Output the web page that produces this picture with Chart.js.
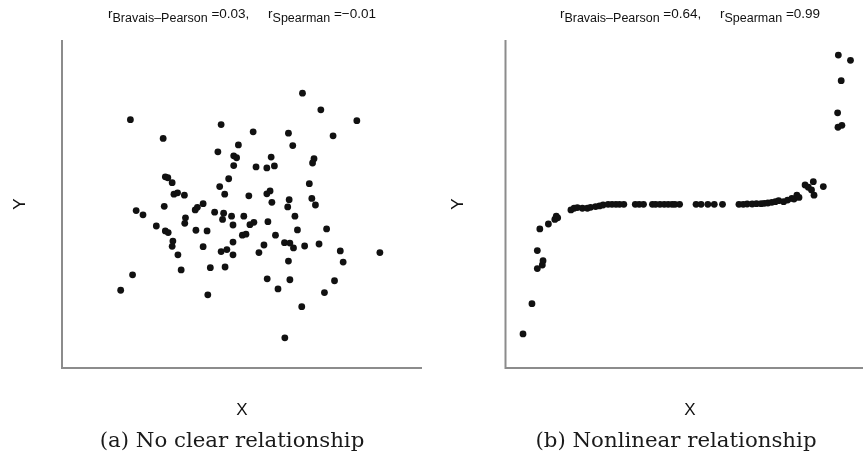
<!DOCTYPE html>
<html>
<head>
<meta charset="utf-8">
<script src="https://cdn.jsdelivr.net/npm/chart.js@4.4.1/dist/chart.umd.min.js"></script>
<style>
  html, body { margin: 0; padding: 0; background: #fff; }
  #wrap { position: relative; width: 867px; height: 471px; overflow: hidden; }
  canvas { position: absolute; top: 0; }
  #leftCanvas { left: 0; }
  #rightCanvas { left: 440px; }
  .caption {
    position: absolute; top: 427px; width: 420px; text-align: center;
    font-family: "DejaVu Serif", serif; font-size: 21.3px; color: #1a1a1a;
  }
  .ylab {
    position: absolute; top: 194px; width: 20px; height: 20px; line-height: 20px;
    text-align: center; color: #111;
    font-family: "Liberation Sans", Arial, sans-serif; font-size: 17px;
    transform: rotate(-90deg);
  }
</style>
</head>
<body>
<div id="wrap">
  <canvas id="leftCanvas" width="440" height="471"></canvas>
  <canvas id="rightCanvas" width="427" height="471"></canvas>
  <div class="ylab" style="left:10px">Y</div>
  <div class="ylab" style="left:448px">Y</div>
  <div class="caption" style="left:22px">(a) No clear relationship</div>
  <div class="caption" style="left:466px">(b) Nonlinear relationship</div>
</div>
<script>
// (a) no clear relationship - values on a 0..100 scale
const noRelX = [19.0, 44.2, 28.1, 43.3, 28.7, 29.4, 30.6, 46.3, 43.8, 31.1,
    32.1, 34.0, 45.2, 20.6, 22.5, 28.4, 37.0, 37.6, 39.2, 42.4,
    44.9, 44.6, 34.3, 34.1, 26.2, 66.8, 71.9, 81.9, 53.1, 62.9,
    75.3, 64.1, 49.0, 47.7, 48.5, 58.1, 70.0, 69.6, 47.7, 53.9,
    56.9, 59.0, 68.7, 56.9, 57.8, 51.9, 58.3, 63.1, 62.7, 69.4,
    70.4, 47.1, 50.5, 47.5, 52.2, 53.3, 57.2, 64.7, 28.7, 29.5,
    37.2, 40.3, 30.8, 30.6, 39.2, 32.2, 44.2, 45.8, 33.1, 41.2,
    45.3, 19.6, 16.3, 40.5, 65.4, 73.5, 50.1, 51.1, 59.3, 47.5,
    56.1, 61.8, 63.3, 64.3, 67.4, 71.4, 47.5, 54.7, 62.9, 77.3,
    88.3, 78.1, 57.0, 63.3, 60.0, 75.7, 72.9, 66.6, 61.9];
const noRelY = [75.7, 74.2, 70.0, 65.9, 58.3, 58.0, 56.5, 57.7, 55.3, 53.0,
    53.4, 52.7, 53.0, 48.0, 46.7, 49.3, 48.2, 49.0, 50.1, 47.5,
    47.2, 45.3, 45.8, 44.1, 43.3, 83.8, 78.7, 75.4, 72.0, 71.6,
    70.8, 67.8, 68.0, 64.7, 64.1, 64.3, 63.8, 62.5, 61.7, 61.3,
    61.0, 61.6, 56.2, 53.1, 54.0, 52.5, 50.5, 51.3, 49.1, 51.7,
    49.7, 46.3, 46.3, 43.6, 43.7, 44.4, 44.6, 46.3, 41.8, 41.3,
    42.0, 41.8, 38.7, 37.1, 37.0, 34.5, 35.5, 36.1, 29.9, 30.6,
    30.8, 28.4, 23.7, 22.3, 42.1, 42.4, 40.5, 40.8, 40.5, 38.4,
    37.5, 38.2, 38.1, 36.6, 37.2, 37.8, 34.5, 35.2, 32.6, 35.7,
    35.2, 32.3, 27.2, 26.9, 24.1, 26.6, 23.0, 18.7, 9.2];

// (b) nonlinear relationship
const nonLinX = [4.9, 7.4, 8.9, 8.9, 10.3, 10.5, 9.6, 12.0, 13.8, 14.2,
    14.6, 18.3, 19.2, 20.1, 21.5, 22.9, 23.8, 25.2, 26.3, 27.3,
    28.7, 29.8, 30.9, 31.9, 33.1, 36.3, 37.4, 38.6, 41.1, 42.0,
    43.2, 44.4, 45.5, 46.6, 47.4, 48.7, 53.3, 54.7, 56.6, 58.4,
    60.7, 65.3, 66.5, 67.6, 69.0, 70.2, 71.5, 72.4, 73.4, 74.5,
    75.5, 76.4, 77.8, 78.9, 80.1, 80.7, 81.5, 82.1, 83.8, 84.7,
    85.6, 86.1, 86.3, 88.9, 92.9, 93.0, 94.1, 93.9, 93.1, 96.5];
const nonLinY = [10.4, 19.6, 30.3, 35.8, 31.4, 32.7, 42.4, 43.9, 45.3, 46.3,
    45.8, 48.2, 48.7, 48.9, 48.7, 48.7, 49.0, 49.2, 49.4, 49.7,
    49.9, 49.9, 49.9, 49.9, 49.9, 49.9, 49.9, 49.9, 49.9, 49.9,
    49.9, 49.9, 49.9, 49.9, 49.9, 49.9, 49.9, 49.9, 49.9, 49.9,
    49.9, 49.9, 49.9, 50.0, 50.0, 50.1, 50.1, 50.2, 50.3, 50.5,
    50.7, 51.0, 50.7, 51.2, 51.7, 51.5, 52.7, 52.0, 55.8, 55.1,
    54.3, 56.8, 52.7, 55.3, 77.8, 73.4, 74.0, 87.6, 95.4, 93.8];

const titleA = ['0.03', '\u22120.01'];
const titleB = ['0.64', '0.99'];

function toPoints(xs, ys) {
    return xs.map((x, i) => ({x: x, y: ys[i]}));
}

// axis lines, X letter and the r-title with subscripts
const panelDecor = {
    id: 'panelDecor',
    beforeDatasetsDraw(chart, args, opts) {
        const ctx = chart.ctx, a = chart.chartArea;
        ctx.save();
        ctx.strokeStyle = '#8c8c8c';
        ctx.lineWidth = 2;
        ctx.beginPath();
        ctx.moveTo(a.left, a.top);
        ctx.lineTo(a.left, a.bottom);
        ctx.lineTo(a.right, a.bottom);
        ctx.stroke();
        ctx.restore();
    },
    afterDraw(chart, args, opts) {
        const ctx = chart.ctx;
        const cx = opts.centerX;
        ctx.save();
        ctx.fillStyle = '#111';
        ctx.textBaseline = 'middle';
        ctx.textAlign = 'center';
        ctx.font = '17px "Liberation Sans", Arial, sans-serif';
        ctx.fillText('X', cx, 410);
        ctx.restore();

        // title
        const main = '13.5px "Liberation Sans", Arial, sans-serif';
        const sub = '12.5px "Liberation Sans", Arial, sans-serif';
        const parts = [
            {t: 'r', f: main, dy: 0},
            {t: 'Bravais\u2013Pearson', f: sub, dy: 4},
            {t: ' =' + opts.values[0] + ',     ', f: main, dy: 0},
            {t: 'r', f: main, dy: 0},
            {t: 'Spearman', f: sub, dy: 4},
            {t: ' =' + opts.values[1], f: main, dy: 0}
        ];
        ctx.save();
        ctx.fillStyle = '#111';
        ctx.textBaseline = 'alphabetic';
        ctx.textAlign = 'left';
        let total = 0;
        parts.forEach(p => { ctx.font = p.f; p.w = ctx.measureText(p.t).width; total += p.w; });
        let x = cx - total / 2;
        parts.forEach(p => {
            ctx.font = p.f;
            ctx.fillText(p.t, x, 18 + p.dy);
            x += p.w;
        });
        ctx.restore();
    }
};

function makePanel(canvasId, xs, ys, padLeft, padRight, centerX, values) {
    return new Chart(document.getElementById(canvasId), {
        type: 'scatter',
        data: {
            datasets: [{
                data: toPoints(xs, ys),
                backgroundColor: '#111',
                borderColor: '#111',
                pointRadius: 3.4,
                borderWidth: 0
            }]
        },
        options: {
            responsive: false,
            animation: false,
            layout: {padding: {left: padLeft, right: padRight, top: 40, bottom: 103}},
            scales: {
                x: {display: false, min: 0, max: 100},
                y: {display: false, min: 0, max: 100}
            },
            plugins: {
                legend: {display: false},
                tooltip: {enabled: false},
                panelDecor: {centerX: centerX, values: values}
            }
        },
        plugins: [panelDecor]
    });
}

var leftChart = makePanel('leftCanvas', noRelX, noRelY, 62, 18, 242, titleA);
var rightChart = makePanel('rightCanvas', nonLinX, nonLinY, 65.5, 0, 250, titleB);
</script>
</body>
</html>
